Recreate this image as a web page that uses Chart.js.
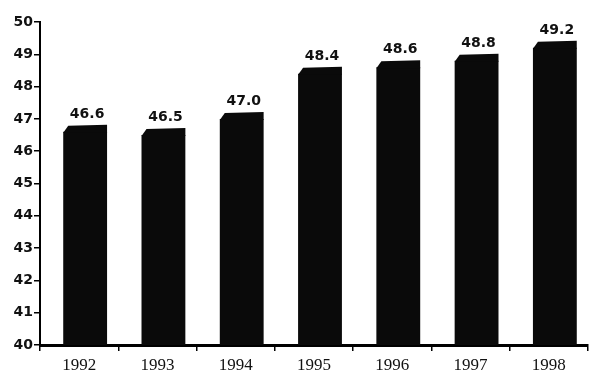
<!DOCTYPE html>
<html>
<head>
<meta charset="utf-8">
<script src="https://cdn.jsdelivr.net/npm/chart.js@4/dist/chart.umd.min.js"></script>
<style>
  html, body { margin: 0; padding: 0; background: #fff; }
  #wrap { width: 596px; height: 374px; }
</style>
</head>
<body>
<div id="wrap"><canvas id="grafico" width="596" height="374"></canvas></div>
<script>
const years = ['1992', '1993', '1994', '1995', '1996', '1997', '1998'];
const valores = [46.6, 46.5, 47.0, 48.4, 48.6, 48.8, 49.2];
const etiquetas = ['46.6', '46.5', '47.0', '48.4', '48.6', '48.8', '49.2'];

// barras "3D": la cara frontal va un poco a la derecha y lleva una tapa
const barras3d = {
    id: 'barras3d',
    afterDatasetsUpdate(chart) {
        chart.getDatasetMeta(0).data.forEach(function (bar) {
            bar.x += 6;
        });
    },
    afterDatasetsDraw(chart) {
        const ctx = chart.ctx;
        const meta = chart.getDatasetMeta(0);
        ctx.save();
        meta.data.forEach(function (bar, i) {
            const izq = bar.x - bar.width / 2;
            const der = bar.x + bar.width / 2;
            ctx.fillStyle = '#0a0a0a';
            ctx.beginPath();
            ctx.moveTo(izq, bar.y + 1);
            ctx.lineTo(izq + 5, bar.y - 6);
            ctx.lineTo(der, bar.y - 7);
            ctx.lineTo(der, bar.y + 1);
            ctx.closePath();
            ctx.fill();
            // valor encima de la barra
            ctx.fillStyle = '#111';
            ctx.font = 'bold 14px "DejaVu Sans"';
            ctx.textAlign = 'center';
            ctx.textBaseline = 'alphabetic';
            ctx.fillText(etiquetas[i], bar.x + 2, bar.y - 14);
        });
        ctx.restore();
    }
};

document.addEventListener("DOMContentLoaded", function () {
    const ctx = document.getElementById('grafico').getContext('2d');
    new Chart(ctx, {
        type: 'bar',
        data: {
            labels: years,
            datasets: [{
                data: valores,
                backgroundColor: '#0a0a0a',
                borderWidth: 0,
                barPercentage: 0.56,
                categoryPercentage: 1.0
            }]
        },
        options: {
            responsive: false,
            animation: false,
            layout: { padding: { top: 22, right: 8, left: 0, bottom: 0 } },
            plugins: {
                legend: { display: false },
                tooltip: { enabled: false }
            },
            scales: {
                x: {
                    offset: true,
                    grid: {
                        display: true,
                        drawOnChartArea: false,
                        offset: true,
                        tickLength: 6,
                        lineWidth: 1.5,
                        color: '#000'
                    },
                    border: { color: '#000', width: 3 },
                    ticks: {
                        color: '#111',
                        font: { family: '"Liberation Serif"', size: 17 },
                        padding: 4
                    },
                    afterFit(axis) { axis.height = 29; }
                },
                y: {
                    min: 40,
                    max: 50,
                    grid: {
                        display: true,
                        drawOnChartArea: false,
                        tickLength: 6,
                        lineWidth: 1.5,
                        color: '#000'
                    },
                    border: { color: '#000', width: 2 },
                    ticks: {
                        stepSize: 1,
                        color: '#111',
                        font: { family: '"DejaVu Sans"', size: 14, weight: 'bold' },
                        padding: 1
                    },
                    afterFit(axis) { axis.width = 40; }
                }
            }
        },
        plugins: [barras3d]
    });
});
</script>
</body>
</html>
